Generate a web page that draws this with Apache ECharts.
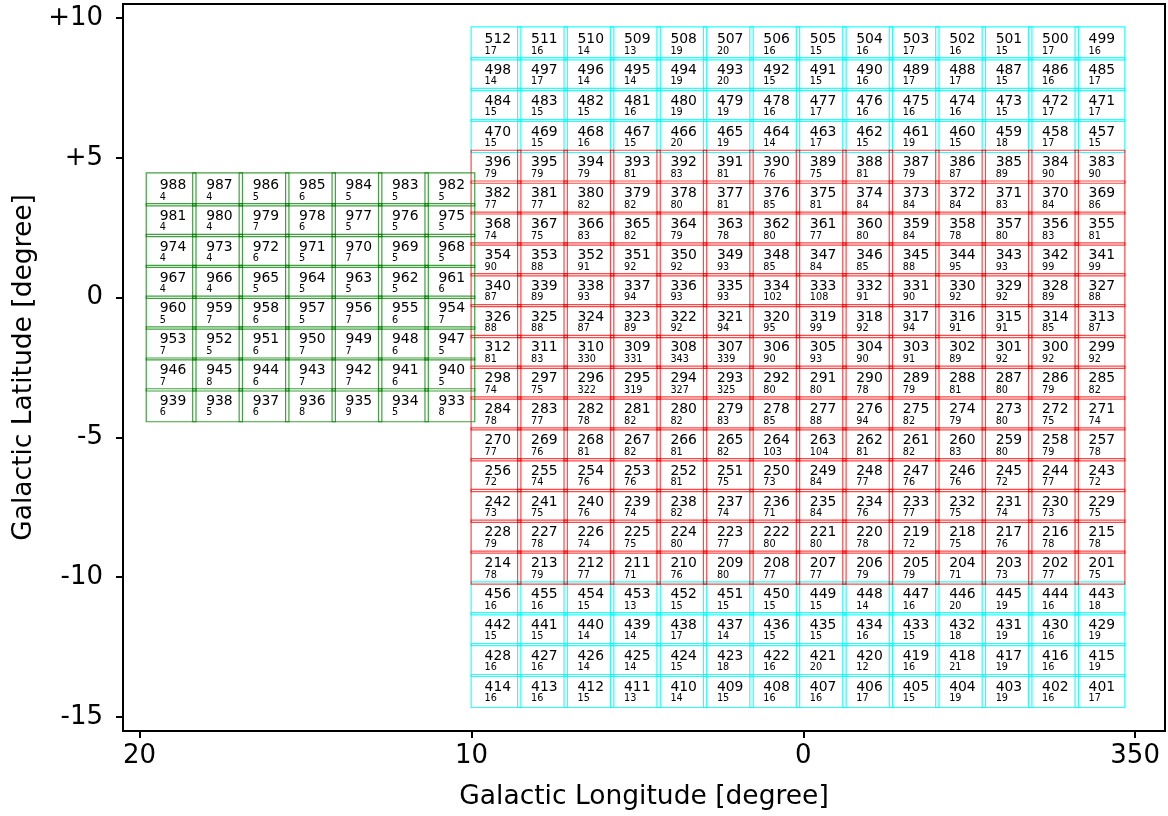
<!DOCTYPE html>
<html>
<head>
<meta charset="utf-8">
<script src="https://cdn.jsdelivr.net/npm/echarts@6/dist/echarts.min.js"></script>
<style>
html,body{margin:0;padding:0;background:#fff;}
#chart{width:1168px;height:816px;}
</style>
</head>
<body>
<div id="chart"></div>
<script>
// ---- Data ----
// Tile centre longitudes (deg) for the main block (left to right)
const mainLon = [9.26, 7.86, 6.46, 5.06, 3.66, 2.26, 0.86, -0.54, -1.94, -3.34, -4.74, -6.14, -7.54, -8.94];
// Tile centre latitudes (deg) for the main block (top to bottom)
const mainLat = [9.09, 7.99, 6.89, 5.78, 4.68, 3.58, 2.47, 1.37, 0.27, -0.84, -1.94, -3.04, -4.14, -5.25,
                 -6.35, -7.45, -8.55, -9.66, -10.76, -11.86, -12.96, -14.07];
// Row survey kind for the main block
const mainRowKind = ['ext','ext','ext','ext',
  'bulge','bulge','bulge','bulge','bulge','bulge','bulge','bulge','bulge','bulge','bulge','bulge','bulge','bulge',
  'ext','ext','ext','ext'];
const mainIds = [
  [512,511,510,509,508,507,506,505,504,503,502,501,500,499],
  [498,497,496,495,494,493,492,491,490,489,488,487,486,485],
  [484,483,482,481,480,479,478,477,476,475,474,473,472,471],
  [470,469,468,467,466,465,464,463,462,461,460,459,458,457],
  [396,395,394,393,392,391,390,389,388,387,386,385,384,383],
  [382,381,380,379,378,377,376,375,374,373,372,371,370,369],
  [368,367,366,365,364,363,362,361,360,359,358,357,356,355],
  [354,353,352,351,350,349,348,347,346,345,344,343,342,341],
  [340,339,338,337,336,335,334,333,332,331,330,329,328,327],
  [326,325,324,323,322,321,320,319,318,317,316,315,314,313],
  [312,311,310,309,308,307,306,305,304,303,302,301,300,299],
  [298,297,296,295,294,293,292,291,290,289,288,287,286,285],
  [284,283,282,281,280,279,278,277,276,275,274,273,272,271],
  [270,269,268,267,266,265,264,263,262,261,260,259,258,257],
  [256,255,254,253,252,251,250,249,248,247,246,245,244,243],
  [242,241,240,239,238,237,236,235,234,233,232,231,230,229],
  [228,227,226,225,224,223,222,221,220,219,218,217,216,215],
  [214,213,212,211,210,209,208,207,206,205,204,203,202,201],
  [456,455,454,453,452,451,450,449,448,447,446,445,444,443],
  [442,441,440,439,438,437,436,435,434,433,432,431,430,429],
  [428,427,426,425,424,423,422,421,420,419,418,417,416,415],
  [414,413,412,411,410,409,408,407,406,405,404,403,402,401]
];
const mainCounts = [
  [17,16,14,13,19,20,16,15,16,17,16,15,17,16],
  [14,17,14,14,19,20,15,15,16,17,17,15,16,17],
  [15,15,15,16,19,19,16,17,16,16,16,15,17,17],
  [15,15,16,15,20,19,14,17,15,19,15,18,17,15],
  [79,79,79,81,83,81,76,75,81,79,87,89,90,90],
  [77,77,82,82,80,81,85,81,84,84,84,83,84,86],
  [74,75,83,82,79,78,80,77,80,84,78,80,83,81],
  [90,88,91,92,92,93,85,84,85,88,95,93,99,99],
  [87,89,93,94,93,93,102,108,91,90,92,92,89,88],
  [88,88,87,89,92,94,95,99,92,94,91,91,85,87],
  [81,83,330,331,343,339,90,93,90,91,89,92,92,92],
  [74,75,322,319,327,325,80,80,78,79,81,80,79,82],
  [78,77,78,82,82,83,85,88,94,82,79,80,75,74],
  [77,76,81,82,81,82,103,104,81,82,83,80,79,78],
  [72,74,76,76,81,75,73,84,77,76,76,72,77,72],
  [73,75,76,74,82,74,71,84,76,77,75,74,73,75],
  [79,78,74,75,80,77,80,80,78,72,75,76,78,78],
  [78,79,77,71,76,80,77,77,79,79,71,73,77,75],
  [16,16,15,13,15,15,15,15,14,16,20,19,16,18],
  [15,15,14,14,17,14,15,15,16,15,18,19,16,19],
  [16,16,14,14,15,18,16,20,12,16,21,19,16,19],
  [16,16,15,13,14,15,16,16,17,15,19,19,16,17]
];
// Disk block (left)
const diskLon = [19.05, 17.65, 16.25, 14.85, 13.45, 12.05, 10.65];
const diskLat = [3.87, 2.77, 1.67, 0.56, -0.54, -1.64, -2.75, -3.85];
const diskIds = [
  [988,987,986,985,984,983,982],
  [981,980,979,978,977,976,975],
  [974,973,972,971,970,969,968],
  [967,966,965,964,963,962,961],
  [960,959,958,957,956,955,954],
  [953,952,951,950,949,948,947],
  [946,945,944,943,942,941,940],
  [939,938,937,936,935,934,933]
];
const diskCounts = [
  [4,4,5,6,5,5,5],
  [4,4,7,6,5,5,5],
  [4,4,6,5,7,5,5],
  [4,4,5,5,5,5,6],
  [5,7,6,5,7,6,7],
  [7,5,6,7,7,6,5],
  [7,8,6,7,7,6,5],
  [6,5,6,8,9,5,8]
];
const xTicks = [-10, 0, 10, 20];
const yTicks = [-15, -10, -5, 0, 5, 10];

// ---- Build series data ----
const TILE_W = 1.50, TILE_H = 1.18;
const extData = [], bulgeData = [], diskData = [];
mainLat.forEach((b, r) => {
  mainLon.forEach((l, c) => {
    const item = [l, b, mainIds[r][c], mainCounts[r][c]];
    (mainRowKind[r] === 'bulge' ? bulgeData : extData).push(item);
  });
});
diskLat.forEach((b, r) => {
  diskLon.forEach((l, c) => {
    diskData.push([l, b, diskIds[r][c], diskCounts[r][c]]);
  });
});

const FONT = '"DejaVu Sans", "Liberation Sans", sans-serif';

function makeRender(strokeColor) {
  return function (params, api) {
    const l = api.value(0), b = api.value(1);
    const p1 = api.coord([l + TILE_W / 2, b + TILE_H / 2]);
    const p2 = api.coord([l - TILE_W / 2, b - TILE_H / 2]);
    const x = Math.min(p1[0], p2[0]), y = Math.min(p1[1], p2[1]);
    const w = Math.abs(p2[0] - p1[0]), h = Math.abs(p2[1] - p1[1]);
    const cy = y + h / 2;
    return {
      type: 'group',
      children: [
        { type: 'rect', shape: { x: x, y: y, width: w, height: h },
          style: { fill: 'none', stroke: strokeColor, lineWidth: 1.2 } },
        { type: 'text', style: { text: String(api.value(2)), x: x + 13.5, y: cy - 4,
            font: '13.9px ' + FONT, fill: '#000', textAlign: 'left', textVerticalAlign: 'middle' } },
        { type: 'text', style: { text: String(api.value(3)), x: x + 13.5, y: cy + 7.7,
            font: '9.7px ' + FONT, fill: '#000', textAlign: 'left', textVerticalAlign: 'middle' } }
      ]
    };
  };
}

const chart = echarts.init(document.getElementById('chart'), null, { renderer: 'canvas' });
const axisCommon = {
  axisLine: { show: true, onZero: false, lineStyle: { color: '#000', width: 2 } },
  axisTick: { show: true, inside: false, length: 7, lineStyle: { color: '#000', width: 2 } },
  splitLine: { show: false },
  nameTextStyle: { fontSize: 26.5, fontFamily: FONT, color: '#000' }
};
chart.setOption({
  backgroundColor: '#fff',
  animation: false,
  grid: { left: 123, right: 3, top: 4, bottom: 84, show: true, borderColor: '#000', borderWidth: 2, backgroundColor: 'transparent' },
  xAxis: Object.assign({}, axisCommon, {
    type: 'value', inverse: true, min: -10.9, max: 20.5,
    name: 'Galactic Longitude [degree]', nameLocation: 'middle', nameGap: 53,
    axisTick: Object.assign({}, axisCommon.axisTick, { customValues: xTicks }),
    axisLabel: { customValues: xTicks, margin: 12, fontSize: 26, fontFamily: FONT, color: '#000',
      formatter: v => String(v < 0 ? v + 360 : v) }
  }),
  yAxis: Object.assign({}, axisCommon, {
    type: 'value', min: -15.5, max: 10.5,
    name: 'Galactic Latitude [degree]', nameLocation: 'middle', nameGap: 82,
    axisTick: Object.assign({}, axisCommon.axisTick, { customValues: yTicks }),
    axisLabel: { customValues: yTicks, margin: 20, fontSize: 26, fontFamily: FONT, color: '#000',
      formatter: v => (v > 0 ? '+' + v : String(v)) }
  }),
  series: [
    { type: 'custom', name: 'ext', data: extData, renderItem: makeRender('rgba(0,255,255,0.85)'),
      encode: { x: 0, y: 1 }, silent: true, clip: true, z: 2 },
    { type: 'custom', name: 'bulge', data: bulgeData, renderItem: makeRender('rgba(255,0,0,0.72)'),
      encode: { x: 0, y: 1 }, silent: true, clip: true, z: 3 },
    { type: 'custom', name: 'disk', data: diskData, renderItem: makeRender('rgba(0,128,0,0.75)'),
      encode: { x: 0, y: 1 }, silent: true, clip: true, z: 4 }
  ]
});
</script>
</body>
</html>
